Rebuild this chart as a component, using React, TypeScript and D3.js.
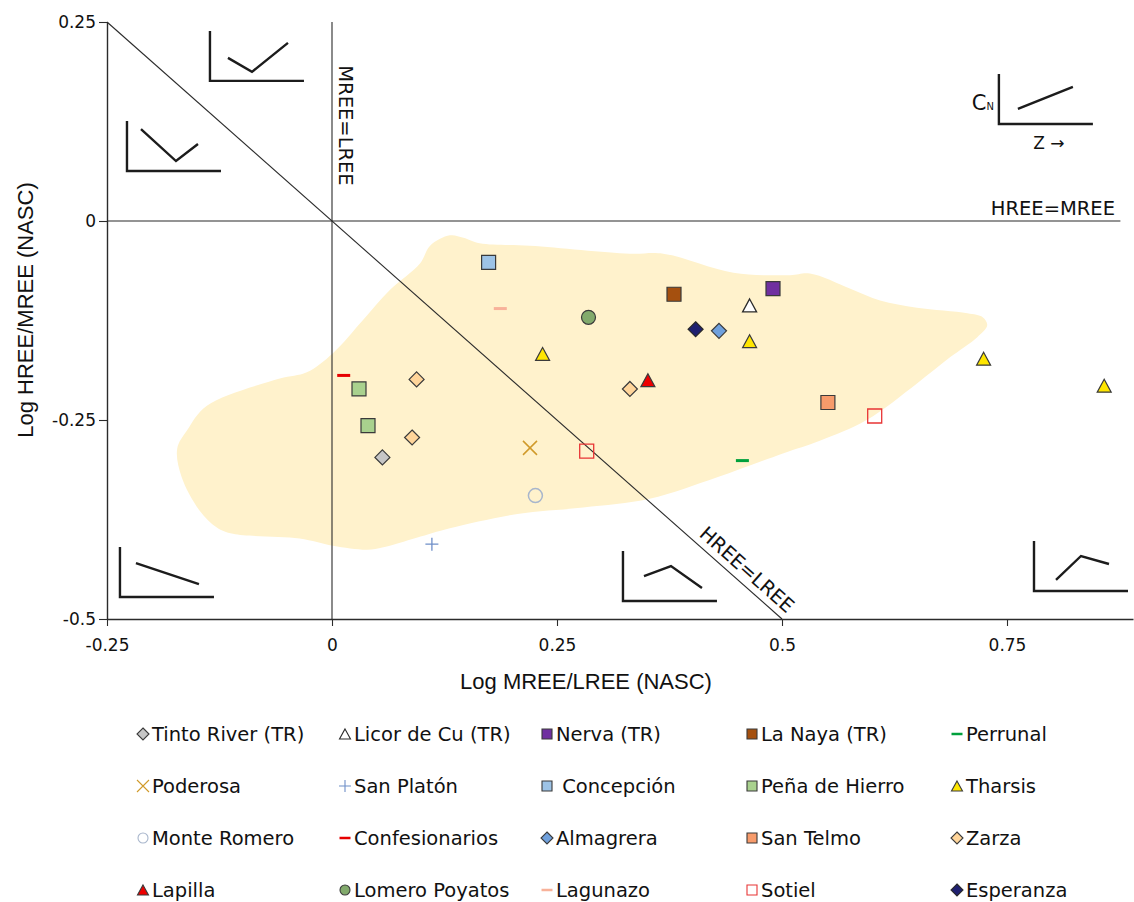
import React, { useEffect, useRef } from 'react';
import * as d3 from 'd3';

const W = 1134;
const H = 902;

// Sites, in legend order (row by row, five per row)
const siteNames = [
  'Tinto River (TR)', 'Licor de Cu (TR)', 'Nerva (TR)', 'La Naya (TR)', 'Perrunal',
  'Poderosa', 'San Platón', ' Concepción', 'Peña de Hierro', 'Tharsis',
  'Monte Romero', 'Confesionarios', 'Almagrera', 'San Telmo', 'Zarza',
  'Lapilla', 'Lomero Poyatos', 'Lagunazo', 'Sotiel', 'Esperanza',
];

// Samples: site index, Log MREE/LREE (NASC), Log HREE/MREE (NASC)
const sampleSite = [0, 1, 2, 3, 4, 5, 6, 7, 8, 8, 9, 9, 9, 9, 10, 11, 12, 13, 14, 14, 14, 15, 16, 17, 18, 18, 19];
const logMreeLree = [0.056, 0.464, 0.49, 0.38, 0.456, 0.22, 0.111, 0.174, 0.03, 0.04, 0.234, 0.464, 0.724, 0.858, 0.226, 0.013, 0.43, 0.551, 0.094, 0.331, 0.089, 0.351, 0.285, 0.187, 0.283, 0.603, 0.404];
const logHreeMree = [-0.297, -0.106, -0.085, -0.092, -0.301, -0.285, -0.406, -0.052, -0.211, -0.257, -0.167, -0.151, -0.173, -0.207, -0.345, -0.194, -0.138, -0.228, -0.199, -0.211, -0.272, -0.2, -0.121, -0.11, -0.289, -0.245, -0.136];

// Outline of the shaded field (data units)
const fieldX = [0.131, 0.146, 0.164, 0.22, 0.331, 0.368, 0.446, 0.509, 0.531, 0.576, 0.609, 0.65, 0.706, 0.723, 0.728, 0.717, 0.687, 0.65, 0.594, 0.542, 0.501, 0.428, 0.353, 0.279, 0.206, 0.131, 0.094, 0.057, 0.039, 0.001, -0.036, -0.11, -0.128, -0.147, -0.167, -0.172, -0.161, -0.139, -0.058, -0.028, 0.001, 0.034, 0.064, 0.098, 0.109];
const fieldY = [-0.018, -0.021, -0.028, -0.031, -0.041, -0.041, -0.065, -0.068, -0.066, -0.085, -0.1, -0.109, -0.116, -0.121, -0.131, -0.146, -0.171, -0.204, -0.25, -0.276, -0.292, -0.322, -0.349, -0.36, -0.368, -0.386, -0.398, -0.41, -0.413, -0.408, -0.399, -0.393, -0.385, -0.364, -0.322, -0.286, -0.263, -0.232, -0.198, -0.19, -0.166, -0.125, -0.087, -0.053, -0.031];

const xTicks = [-0.25, 0, 0.25, 0.5, 0.75];
const xTickLabels = ['-0.25', '0', '0.25', '0.5', '0.75'];
const yTicks = [-0.5, -0.25, 0, 0.25];
const yTickLabels = ['-0.5', '-0.25', '0', '0.25'];

type Shape = 'square' | 'diamond' | 'triangle' | 'circle' | 'dash' | 'x' | 'plus';
interface Style { shape: Shape; fill: string; stroke: string; sw: number; }

const siteStyles: Style[] = [
  { shape: 'diamond', fill: '#c6c6c6', stroke: '#3a3a3a', sw: 1.2 },
  { shape: 'triangle', fill: '#ffffff', stroke: '#2a2a2a', sw: 1.3 },
  { shape: 'square', fill: '#7030a0', stroke: '#3a3a3a', sw: 1.2 },
  { shape: 'square', fill: '#a5500f', stroke: '#3a3a3a', sw: 1.2 },
  { shape: 'dash', fill: 'none', stroke: '#00a03c', sw: 3 },
  { shape: 'x', fill: 'none', stroke: '#d09a2a', sw: 1.5 },
  { shape: 'plus', fill: 'none', stroke: '#6f8fc8', sw: 1.3 },
  { shape: 'square', fill: '#9dc3e6', stroke: '#3a3a3a', sw: 1.2 },
  { shape: 'square', fill: '#a9d18e', stroke: '#3a3a3a', sw: 1.2 },
  { shape: 'triangle', fill: '#ffe600', stroke: '#3a3a3a', sw: 1.2 },
  { shape: 'circle', fill: 'none', stroke: '#a8b6cc', sw: 1.5 },
  { shape: 'dash', fill: 'none', stroke: '#e60000', sw: 3 },
  { shape: 'diamond', fill: '#6fa0dc', stroke: '#3a3a3a', sw: 1.2 },
  { shape: 'square', fill: '#f79b6b', stroke: '#3a3a3a', sw: 1.2 },
  { shape: 'diamond', fill: '#ffd59a', stroke: '#3a3a3a', sw: 1.2 },
  { shape: 'triangle', fill: '#ee0000', stroke: '#3a3a3a', sw: 1.2 },
  { shape: 'circle', fill: '#82aa6c', stroke: '#3a3a3a', sw: 1.2 },
  { shape: 'dash', fill: 'none', stroke: '#f8b29a', sw: 3 },
  { shape: 'square', fill: 'none', stroke: '#e83535', sw: 1.3 },
  { shape: 'diamond', fill: '#1f2070', stroke: '#2a2a2a', sw: 1.2 },
];

// Schematic REE-pattern glyphs: anchor (corner of the small L-axes, data units)
// and the normalised-pattern polyline in local pixel offsets from that corner
const glyphAnchorX = [-0.1356, -0.2278, -0.2356, 0.3233, 0.78, 0.741];
const glyphAnchorY = [0.176, 0.0628, -0.4724, -0.4774, -0.4648, 0.1219];
const glyphPatterns: [number, number][][] = [
  [[18, -23], [42, -9], [78, -38]],
  [[14, -42], [49, -10], [71, -27]],
  [[16, -34], [79, -13]],
  [[21, -25], [48, -35], [79, -13]],
  [[22, -11], [47, -35], [75, -27]],
  [[19, -15], [74, -37]],
];

function markerPath(shape: Shape, s: number): string {
  const h = s / 2;
  switch (shape) {
    case 'square':
      return `M${-h},${-h}H${h}V${h}H${-h}Z`;
    case 'diamond':
      return `M0,${-h}L${h},0L0,${h}L${-h},0Z`;
    case 'triangle': {
      const th = s * 0.92;
      return `M0,${-th / 2}L${h},${th / 2}L${-h},${th / 2}Z`;
    }
    case 'circle': {
      const p = d3.path();
      p.arc(0, 0, h, 0, Math.PI * 2);
      p.closePath();
      return p.toString();
    }
    case 'dash':
      return `M${-h},0H${h}`;
    case 'x':
      return `M${-h},${-h}L${h},${h}M${h},${-h}L${-h},${h}`;
    case 'plus':
      return `M${-h},0H${h}M0,${-h}V${h}`;
  }
}

const plotSize: Record<Shape, number> = { square: 14, diamond: 15, triangle: 14, circle: 14, dash: 13, x: 14, plus: 13 };
const legendSize: Record<Shape, number> = { square: 10, diamond: 12, triangle: 11, circle: 10, dash: 11, x: 12, plus: 12 };

export default function App() {
  const ref = useRef<SVGSVGElement | null>(null);

  useEffect(() => {
    const svg = d3.select(ref.current);
    svg.selectAll('*').remove();

    const x = d3.scaleLinear().domain([-0.25, 0.89]).range([107, 1133]);
    const y = d3.scaleLinear().domain([-0.5, 0.25]).range([619, 22]);
    const ink = '#2b2b2b';

    // shaded field
    const field = fieldX.map((v, i) => [x(v), y(fieldY[i])] as [number, number]);
    svg.append('path')
      .attr('d', d3.line().curve(d3.curveCatmullRomClosed.alpha(0.5))(field) as string)
      .attr('fill', '#fff2cc');

    // reference lines
    const refs = svg.append('g').attr('stroke', ink).attr('stroke-width', 1.1).attr('fill', 'none');
    refs.append('line').attr('x1', x(-0.25)).attr('x2', x(0.876)).attr('y1', y(0)).attr('y2', y(0));
    refs.append('line').attr('x1', x(0)).attr('x2', x(0)).attr('y1', y(-0.5)).attr('y2', y(0.25));
    refs.append('line').attr('x1', x(-0.25)).attr('y1', y(0.25)).attr('x2', x(0.5)).attr('y2', y(-0.5));

    const labelFont = 'DejaVu Sans, Verdana, sans-serif';
    svg.append('text')
      .attr('transform', `translate(${x(0) + 7},${y(0.12)}) rotate(90)`)
      .attr('text-anchor', 'middle')
      .attr('font-family', labelFont).attr('font-size', 19.5).attr('fill', '#111')
      .text('MREE=LREE');
    svg.append('text')
      .attr('x', x(0.87)).attr('y', y(0) - 6)
      .attr('text-anchor', 'end')
      .attr('font-family', labelFont).attr('font-size', 19.5).attr('fill', '#111')
      .text('HREE=MREE');
    const ang = (Math.atan2(y(-0.5) - y(0.25), x(0.5) - x(-0.25)) * 180) / Math.PI;
    svg.append('text')
      .attr('transform', `translate(${x(0.451)},${y(-0.451)}) rotate(${ang})`)
      .attr('dy', -7)
      .attr('text-anchor', 'middle')
      .attr('font-family', labelFont).attr('font-size', 19.5).attr('fill', '#111')
      .text('HREE=LREE');

    // axes
    const tickFont = 'DejaVu Sans, Verdana, sans-serif';
    const yAxis = svg.append('g')
      .attr('transform', `translate(${x(-0.25)},0)`)
      .call(
        d3.axisLeft(y).tickValues(yTicks).tickSize(8).tickPadding(3).tickSizeOuter(0)
          .tickFormat((_d, i) => yTickLabels[i])
      );
    const xAxis = svg.append('g')
      .attr('transform', `translate(0,${y(-0.5)})`)
      .call(
        d3.axisBottom(x).tickValues(xTicks).tickSize(7).tickPadding(13).tickSizeOuter(0)
          .tickFormat((_d, i) => xTickLabels[i])
      );
    [xAxis, yAxis].forEach((g) => {
      g.select('.domain').attr('stroke', ink).attr('stroke-width', 1.4);
      g.selectAll('.tick line').attr('stroke', ink).attr('stroke-width', 1.1);
      g.selectAll('.tick text').attr('font-family', tickFont).attr('font-size', 17).attr('fill', '#111');
    });

    const titleFont = 'Liberation Sans, Arial, sans-serif';
    svg.append('text')
      .attr('x', 586).attr('y', 689)
      .attr('text-anchor', 'middle')
      .attr('font-family', titleFont).attr('font-size', 22).attr('fill', '#111')
      .text('Log MREE/LREE (NASC)');
    svg.append('text')
      .attr('transform', `translate(33,310) rotate(-90)`)
      .attr('text-anchor', 'middle')
      .attr('font-family', titleFont).attr('font-size', 22).attr('fill', '#111')
      .text('Log HREE/MREE (NASC)');

    // schematic pattern glyphs
    const glyphs = svg.append('g').attr('fill', 'none').attr('stroke', '#1c1c1c').attr('stroke-width', 2.4);
    glyphAnchorX.forEach((ax, i) => {
      const cx = x(ax);
      const cy = y(glyphAnchorY[i]);
      const g = glyphs.append('g').attr('transform', `translate(${cx},${cy})`);
      g.append('path').attr('d', 'M0,-50V0H94');
      g.append('path').attr('d', d3.line()(glyphPatterns[i]) as string);
    });
    // axis captions for the key glyph (top right)
    const kx = x(glyphAnchorX[5]);
    const ky = y(glyphAnchorY[5]);
    const cap = svg.append('text')
      .attr('x', kx - 5).attr('y', ky - 14)
      .attr('text-anchor', 'end')
      .attr('font-family', labelFont).attr('fill', '#111');
    cap.append('tspan').attr('font-size', 21).text('C');
    cap.append('tspan').attr('font-size', 10).text('N');
    svg.append('text')
      .attr('x', kx + 50).attr('y', ky + 25)
      .attr('text-anchor', 'middle')
      .attr('font-family', labelFont).attr('font-size', 17).attr('fill', '#111')
      .text('Z →');

    // samples
    const marks = svg.append('g');
    sampleSite.forEach((si, i) => {
      const st = siteStyles[si];
      marks.append('path')
        .attr('transform', `translate(${x(logMreeLree[i])},${y(logHreeMree[i])})`)
        .attr('d', markerPath(st.shape, plotSize[st.shape]))
        .attr('fill', st.fill)
        .attr('stroke', st.stroke)
        .attr('stroke-width', st.sw);
    });

    // legend
    const colMarkX = [143, 345, 547, 752, 957];
    const rowBase = [741, 793, 845, 897];
    const legend = svg.append('g');
    siteNames.forEach((name, i) => {
      const c = i % 5;
      const r = Math.floor(i / 5);
      const st = siteStyles[i];
      const mx = colMarkX[c];
      const my = rowBase[r] - 7;
      legend.append('path')
        .attr('transform', `translate(${mx},${my})`)
        .attr('d', markerPath(st.shape, legendSize[st.shape]))
        .attr('fill', st.fill)
        .attr('stroke', st.stroke)
        .attr('stroke-width', st.shape === 'dash' ? 2.5 : Math.min(st.sw, 1.1));
      legend.append('text')
        .attr('x', mx + 9).attr('y', rowBase[r])
        .attr('font-family', labelFont).attr('font-size', 19.5).attr('fill', '#111')
        .style('white-space', 'pre')
        .text(name);
    });
  }, []);

  return (
    <svg
      ref={ref}
      width={W}
      height={H}
      viewBox={`0 0 ${W} ${H}`}
      style={{ position: 'absolute', left: 0, top: 0, background: '#ffffff' }}
    />
  );
}
